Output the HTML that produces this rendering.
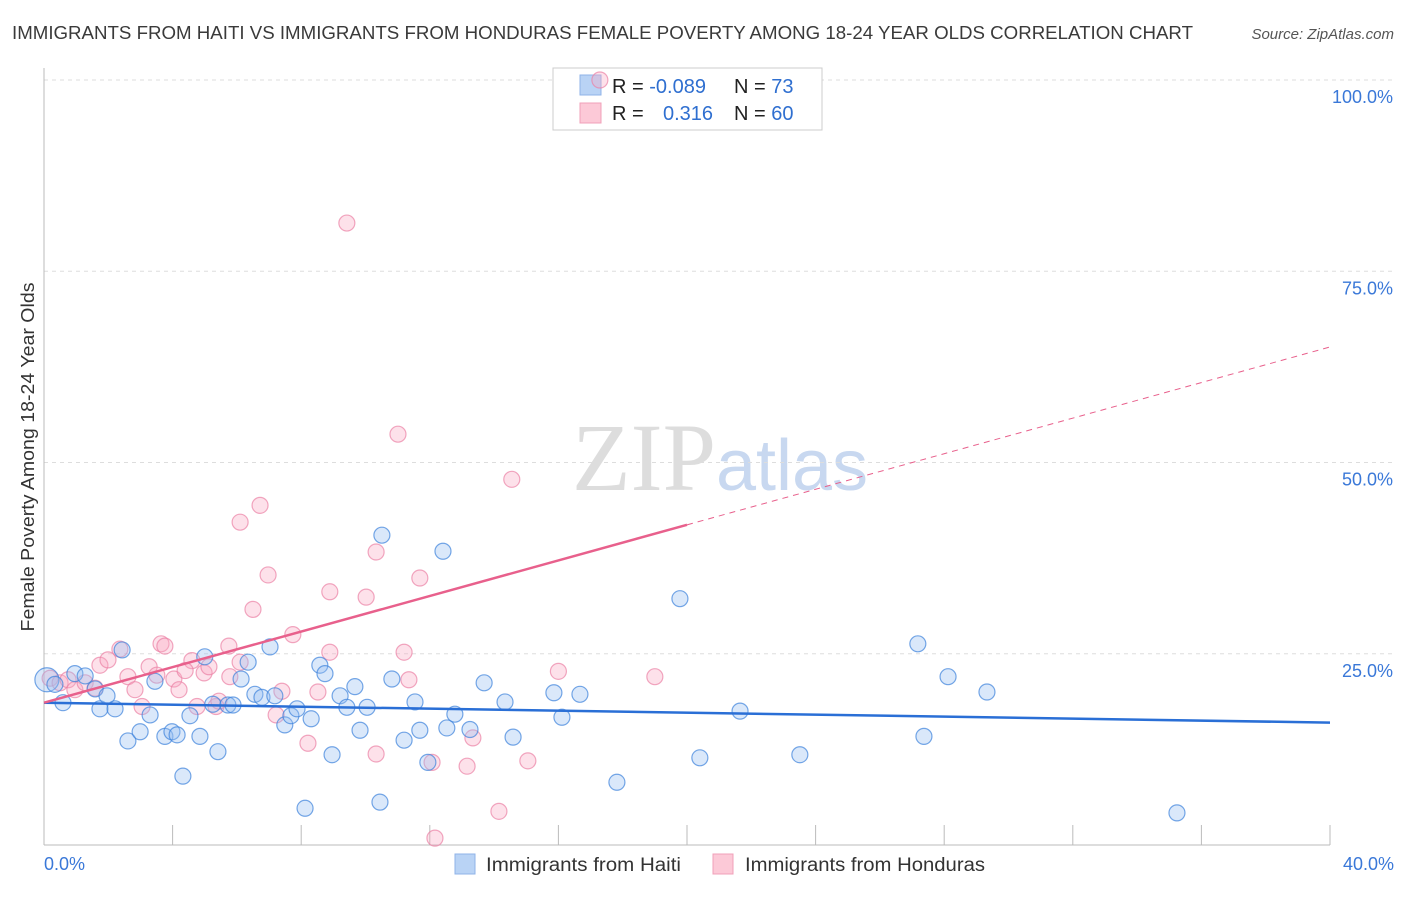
<!DOCTYPE html>
<html><head><meta charset="utf-8"><style>
body{margin:0;background:#fff;font-family:"Liberation Sans",sans-serif;}
svg text{font-family:"Liberation Sans",sans-serif;}
</style></head><body>
<svg id="chart" width="1406" height="892" xmlns="http://www.w3.org/2000/svg">
<text x="12" y="39" font-size="18.5" fill="#3a3a3a" textLength="1181" lengthAdjust="spacingAndGlyphs">IMMIGRANTS FROM HAITI VS IMMIGRANTS FROM HONDURAS FEMALE POVERTY AMONG 18-24 YEAR OLDS CORRELATION CHART</text>
<text x="1394" y="39" font-size="15" fill="#555" font-style="italic" text-anchor="end">Source: ZipAtlas.com</text>
<text x="720" y="490" font-size="96" text-anchor="middle"><tspan fill="#ddd" font-family="Liberation Serif">ZIP</tspan><tspan fill="#c8d8f0" font-size="72">atlas</tspan></text>
<text transform="translate(34,457) rotate(-90)" font-size="18" fill="#333" text-anchor="middle" textLength="349" lengthAdjust="spacingAndGlyphs">Female Poverty Among 18-24 Year Olds</text>
<g id="grid"></g><g id="axes"></g>
<g>
<rect x="553" y="68" width="269" height="62" fill="#fff" stroke="#ccc"/>
<rect x="580" y="75" width="21" height="20" fill="#b9d3f5" stroke="#8fb3e8"/>
<rect x="580" y="103" width="21" height="20" fill="#fcc9d7" stroke="#f0a0b8"/>
<text x="612" y="93" font-size="20" fill="#222">R = <tspan fill="#2f6fd0">-0.089</tspan></text>
<text x="734" y="93" font-size="20" fill="#222">N = <tspan fill="#2f6fd0">73</tspan></text>
<text x="612" y="120" font-size="20" fill="#222">R = <tspan fill="#2f6fd0" x="663">0.316</tspan></text>
<text x="734" y="120" font-size="20" fill="#222">N = <tspan fill="#2f6fd0">60</tspan></text>
</g>
<g id="pts"></g><g id="lines"></g>
<g><rect x="455" y="854" width="20" height="20" fill="#b9d3f5" stroke="#8fb3e8"/><text x="486" y="871" font-size="19" fill="#333" textLength="195" lengthAdjust="spacingAndGlyphs">Immigrants from Haiti</text></g>
<g><rect x="713" y="854" width="20" height="20" fill="#fcc9d7" stroke="#f0a0b8"/><text x="745" y="871" font-size="19" fill="#333" textLength="240" lengthAdjust="spacingAndGlyphs">Immigrants from Honduras</text></g>
</svg>
<script>
const yTicks=[25,50,75,100];
const yTickLabels=["25.0%","50.0%","75.0%","100.0%"];
const xTickLabels=["0.0%","40.0%"];
const haitiX=[0.09,0.34,0.59,0.96,1.28,1.59,1.74,1.96,2.21,2.43,2.61,2.99,3.3,3.45,3.76,3.98,4.14,4.32,4.54,4.85,5.0,5.25,5.41,5.72,5.88,6.13,6.35,6.56,6.78,7.03,7.18,7.49,7.68,7.87,8.12,8.31,8.58,8.74,8.96,9.21,9.42,9.67,9.83,10.05,10.45,10.51,10.82,11.2,11.54,11.69,11.94,12.41,12.53,12.78,13.25,13.69,14.34,14.59,15.86,16.11,16.67,17.82,19.78,20.4,21.65,23.51,27.18,27.37,28.12,29.33,35.24];
const haitiY=[21.6,21,18.6,22.4,22.1,20.4,17.8,19.5,17.8,25.5,13.6,14.8,17,21.4,14.2,14.8,14.4,9,16.9,14.2,24.6,18.4,12.2,18.3,18.3,21.7,23.9,19.7,19.3,25.9,19.5,15.7,16.9,17.8,4.8,16.5,23.5,22.4,11.8,19.5,18.0,20.7,15.0,18.0,5.6,40.5,21.7,13.7,18.7,15.0,10.8,38.4,15.3,17.1,15.1,21.2,18.7,14.1,19.9,16.7,19.7,8.2,32.2,11.4,17.5,11.8,26.3,14.2,22.0,20.0,4.2];
const hondX=[0.19,0.5,0.75,0.96,1.28,1.59,1.74,1.99,2.36,2.61,2.83,3.05,3.27,3.51,3.64,3.76,4.04,4.2,4.6,4.76,4.39,4.98,5.13,5.35,5.44,5.75,6.1,6.1,6.5,6.72,6.97,7.22,7.4,7.74,8.21,8.52,8.89,8.89,10.02,10.33,10.33,11.01,11.2,11.35,11.69,12.07,12.16,13.16,13.34,14.15,14.55,15.05,16.0,17.29,19.0,9.42,5.78];
const hondY=[21.8,21.2,21.6,20.3,21.2,20.5,23.5,24.2,25.6,22,20.3,18.1,23.3,22.2,26.3,26.0,21.7,20.3,24.1,18.1,22.8,22.5,23.3,18.1,18.8,26.0,42.2,23.9,30.8,44.4,35.3,17.0,20.1,27.5,13.3,20.0,25.2,33.1,32.4,38.3,11.9,53.7,25.2,21.6,34.9,10.8,0.9,10.3,14.0,4.4,47.8,11.0,22.7,100,22.0,81.3,22.0];
const hLine=[18.6,16.0];
const pLine=[18.6,65.1];
const X0=44,X1=1330,Y0=845,Y1=80;
const sx=v=>X0+(v/40)*(X1-X0);
const sy=v=>Y0-(v/100)*(Y0-Y1);
const NS="http://www.w3.org/2000/svg";
function mk(tag,attrs,parent){const e=document.createElementNS(NS,tag);for(const k in attrs)e.setAttribute(k,attrs[k]);parent.appendChild(e);return e;}
const grid=document.getElementById('grid'),axes=document.getElementById('axes'),pts=document.getElementById('pts'),lines=document.getElementById('lines');
yTicks.forEach((t,i)=>{
 const l=mk('line',{x1:X0,x2:1394,y1:sy(t),y2:sy(t),stroke:'#ddd','stroke-dasharray':'4,4'},grid);
 
 
 const tx=mk('text',{x:1393,y:sy(t)+23,'font-size':18,fill:'#3a78d8','text-anchor':'end'},grid);
 tx.textContent=yTickLabels[i];
 
 
});
const ax=mk('line',{x1:X0,x2:X1,y1:Y0,y2:Y0,stroke:'#bbb'},axes);


const ay=mk('line',{x1:X0,x2:X0,y1:68,y2:Y0,stroke:'#bbb'},axes);


for(let i=1;i<=10;i++){const t=mk('line',{x1:sx(i*4),x2:sx(i*4),y1:Y0,y2:Y0-20,stroke:'#bbb'},axes);
 
 }
const xl0=mk('text',{x:44,y:870,'font-size':18,fill:'#3a78d8'},axes);xl0.textContent=xTickLabels[0];


const xl1=mk('text',{x:1394,y:870,'font-size':18,fill:'#3a78d8','text-anchor':'end'},axes);xl1.textContent=xTickLabels[1];


hondX.forEach((x,i)=>{const c=mk('circle',{cx:sx(x),cy:sy(hondY[i]),r:8,fill:'rgba(248,170,195,0.35)',stroke:'rgba(235,130,165,0.7)','stroke-width':1.2},pts);
 
 });
haitiX.forEach((x,i)=>{const c=mk('circle',{cx:sx(x),cy:sy(haitiY[i]),r:i==0?12:8,fill:'rgba(150,190,240,0.35)',stroke:'rgba(60,130,220,0.7)','stroke-width':1.2},pts);
 
 });
const hl=mk('line',{x1:sx(0),y1:sy(hLine[0]),x2:sx(40),y2:sy(hLine[1]),stroke:'#2a6fd6','stroke-width':2.5},lines);


const mid=20,pm=pLine[0]+(pLine[1]-pLine[0])*mid/40;
const pl=mk('line',{x1:sx(0),y1:sy(pLine[0]),x2:sx(mid),y2:sy(pm),stroke:'#e8608c','stroke-width':2.5},lines);


const pd=mk('line',{x1:sx(mid),y1:sy(pm),x2:sx(40),y2:sy(pLine[1]),stroke:'#e8608c','stroke-width':1,'stroke-dasharray':'6,5'},lines);


</script>
</body></html>
